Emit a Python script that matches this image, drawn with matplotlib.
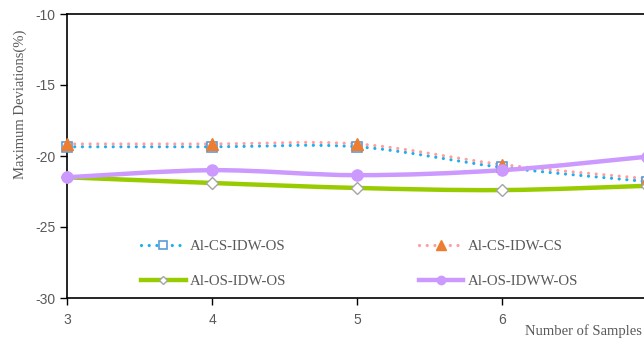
import matplotlib.pyplot as plt
from matplotlib.path import Path
from matplotlib.patches import PathPatch
from matplotlib.lines import Line2D

plt.rcParams['axes.unicode_minus'] = False

# data
samples = [3, 4, 5, 6, 7]
cs_idw_os = [-19.35, -19.35, -19.35, -20.8, -21.8]
cs_idw_cs = [-19.15, -19.15, -19.15, -20.6, -21.6]
os_idw_os = [-21.5, -21.9, -22.25, -22.4, -22.1]
os_idww_os = [-21.5, -21.0, -21.35, -21.0, -20.05]
labels = ['Al-CS-IDW-OS', 'Al-CS-IDW-CS', 'Al-OS-IDW-OS', 'Al-OS-IDWW-OS']
xticks = [3, 4, 5, 6]
yticks = [-30, -25, -20, -15, -10]

gray = '#595959'
serif = ['Liberation Serif', 'DejaVu Serif']

fig = plt.figure(figsize=(6.44, 3.44), dpi=100)
W, H = 644, 344
# axes extends past the right edge like the reference crop
ax = fig.add_axes([67 / W, 46 / H, 145 * 4.4 / W, 284 / H])
ax.set_xlim(3, 7.4)
ax.set_ylim(-30, -10)


def smooth_path(xs, ys):
    # Excel-style smoothed line: catmull-rom converted to cubic bezier
    pts = list(zip(xs, ys))
    verts = [pts[0]]
    codes = [Path.MOVETO]
    n = len(pts)
    for i in range(n - 1):
        p0 = pts[i - 1] if i > 0 else pts[i]
        p1 = pts[i]
        p2 = pts[i + 1]
        p3 = pts[i + 2] if i + 2 < n else pts[i + 1]
        c1 = (p1[0] + (p2[0] - p0[0]) / 6, p1[1] + (p2[1] - p0[1]) / 6)
        c2 = (p2[0] - (p3[0] - p1[0]) / 6, p2[1] - (p3[1] - p1[1]) / 6)
        verts += [c1, c2, p2]
        codes += [Path.CURVE4] * 3
    return Path(verts, codes)


dots = (0, (0.01, 2.4))
styles = [
    dict(color='#1CB0EE', lw=2.3, ls=dots, marker='s', ms=7, mfc='white', mec='#5B9BD5', mew=1.2),
    dict(color='#FF9E9E', lw=2.3, ls=dots, marker='^', ms=9, mfc='#ED7D31', mec='#ED7D31', mew=1),
    dict(color='#99CC00', lw=3.2, ls='-', marker='D', ms=6, mfc='white', mec='#A5A5A5', mew=1),
    dict(color='#CC99FF', lw=3.2, ls='-', marker='o', ms=8, mfc='#CC99FF', mec='#CC99FF', mew=1),
]
series = [cs_idw_os, cs_idw_cs, os_idw_os, os_idww_os]

handles = []
for vals, st, lab in zip(series, styles, labels):
    patch = PathPatch(smooth_path(samples, vals), fill=False, edgecolor=st['color'],
                      lw=st['lw'], linestyle=st['ls'], capstyle='round', zorder=2)
    ax.add_patch(patch)
    ax.plot(samples, vals, ls='none', marker=st['marker'], ms=st['ms'], mfc=st['mfc'],
            mec=st['mec'], mew=st['mew'], zorder=3, clip_on=False)
    h = Line2D([], [], color=st['color'], lw=st['lw'], ls=st['ls'], marker=st['marker'],
               ms=st['ms'] * 0.75, mfc=st['mfc'], mec=st['mec'], mew=st['mew'],
               dash_capstyle='round')
    handles.append(h)

order = [0, 2, 1, 3]
ax.legend([handles[i] for i in order], [labels[i] for i in order], ncol=2, frameon=False,
          loc='lower left', bbox_to_anchor=(141 / W, 56 / H), bbox_transform=fig.transFigure,
          prop={'family': serif, 'size': 10.7}, labelcolor=gray, handlelength=3.0,
          columnspacing=8.9, labelspacing=1.45, numpoints=1, handletextpad=0.3,
          borderaxespad=0, borderpad=0)

ax.set_xticks(xticks)
ax.set_yticks(yticks)
ax.tick_params(direction='out', length=5, width=1, colors='black', labelcolor=gray,
               labelsize=10)
for lab in ax.get_xticklabels() + ax.get_yticklabels():
    lab.set_family(['Liberation Sans', 'DejaVu Sans'])
ax.tick_params(axis='x', pad=6)
for s in ['left', 'bottom', 'top']:
    ax.spines[s].set_linewidth(1.2)
    ax.spines[s].set_color('black')

fig.text(20 / W, 1 - 104 / H, 'Maximum Deviations(%)', rotation=90, ha='center', va='center',
         color=gray, family=serif, fontsize=10.5)
fig.text(642 / W, 1 - 331 / H, 'Number of Samples', ha='right', va='center',
         color=gray, family=serif, fontsize=10.5)

fig.savefig('out.png', dpi=100)
